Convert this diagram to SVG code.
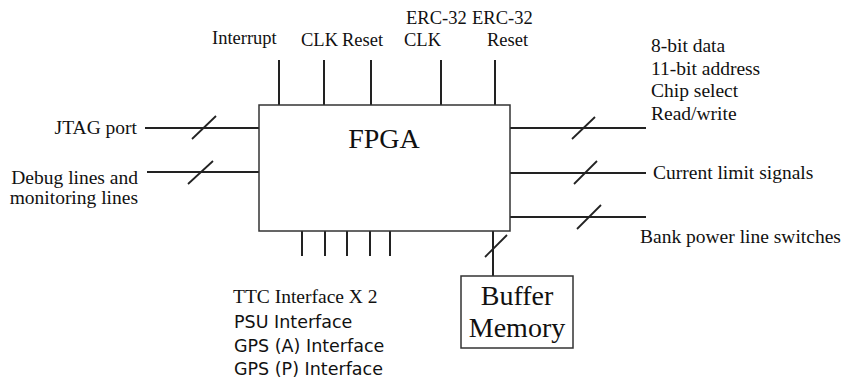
<svg xmlns="http://www.w3.org/2000/svg" width="846" height="380" viewBox="0 0 846 380">
<style>
.t{font-family:"Liberation Serif","Times New Roman",serif;font-size:19.5px;fill:#111}
.tt{font-family:"Liberation Serif","Times New Roman",serif;font-size:18.5px;fill:#111}
.s{font-family:"DejaVu Sans",Verdana,sans-serif;font-size:17.5px;fill:#111}
.big{font-family:"Liberation Serif","Times New Roman",serif;font-size:28px;fill:#111}
.box{fill:#fff;stroke:#333;stroke-width:1.5}
.w{stroke:#222;stroke-width:2;fill:none}
.sl{stroke:#222;stroke-width:1.8;fill:none}
</style>
<rect width="846" height="380" fill="#fff"/>
<g id="connectors">
<line class="w" x1="279" y1="60" x2="279" y2="105"/>
<line class="w" x1="324" y1="60" x2="324" y2="105"/>
<line class="w" x1="371" y1="60" x2="371" y2="105"/>
<line class="w" x1="441" y1="60" x2="441" y2="105"/>
<line class="w" x1="495" y1="60" x2="495" y2="105"/>
<line class="w" x1="145" y1="128" x2="259" y2="128"/>
<line class="sl" x1="192" y1="139" x2="216" y2="116"/>
<line class="w" x1="147" y1="172" x2="259" y2="172"/>
<line class="sl" x1="188" y1="184" x2="213" y2="161"/>
<line class="w" x1="510" y1="128" x2="646" y2="128"/>
<line class="sl" x1="572" y1="139" x2="595" y2="117"/>
<line class="w" x1="510" y1="173" x2="646" y2="173"/>
<line class="sl" x1="574" y1="184" x2="597" y2="161"/>
<line class="w" x1="510" y1="217" x2="646" y2="217"/>
<line class="sl" x1="577" y1="229" x2="601" y2="205"/>
<line class="w" x1="302" y1="231" x2="302" y2="256"/>
<line class="w" x1="325" y1="231" x2="325" y2="256"/>
<line class="w" x1="347" y1="231" x2="347" y2="256"/>
<line class="w" x1="370" y1="231" x2="370" y2="256"/>
<line class="w" x1="390" y1="231" x2="390" y2="256"/>
<line class="w" x1="493" y1="231" x2="493" y2="276"/>
<line class="sl" x1="485" y1="257" x2="507" y2="235"/>
</g>
<g id="fpga">
<rect class="box" x="259" y="105" width="251" height="126"/>
<text class="big" x="384" y="148" text-anchor="middle">FPGA</text>
</g>
<g id="buffer">
<rect class="box" x="461" y="276" width="112" height="72"/>
<text class="big" x="517" y="305" text-anchor="middle">Buffer</text>
<text class="big" x="517" y="337" text-anchor="middle">Memory</text>
</g>
<g id="top-labels">
<text class="tt" x="212" y="44">Interrupt</text>
<text class="tt" x="301" y="46">CLK</text>
<text class="tt" x="342" y="46">Reset</text>
<text class="tt" x="406" y="24">ERC-32</text>
<text class="tt" x="404" y="46">CLK</text>
<text class="tt" x="472" y="24">ERC-32</text>
<text class="tt" x="487" y="46">Reset</text>
</g>
<g id="left-labels">
<text class="t" x="137" y="134" text-anchor="end">JTAG port</text>
<text class="t" x="138" y="184" text-anchor="end">Debug lines and</text>
<text class="t" x="138" y="204" text-anchor="end">monitoring lines</text>
</g>
<g id="right-labels">
<text class="t" x="651" y="52">8-bit data</text>
<text class="t" x="651" y="75">11-bit address</text>
<text class="t" x="651" y="97">Chip select</text>
<text class="t" x="651" y="120">Read/write</text>
<text class="t" x="653" y="179">Current limit signals</text>
<text class="t" x="640" y="243">Bank power line switches</text>
</g>
<g id="bottom-labels">
<text class="t" x="233" y="303">TTC Interface X 2</text>
<text class="s" x="234" y="328">PSU Interface</text>
<text class="s" x="234" y="352">GPS (A) Interface</text>
<text class="s" x="234" y="375">GPS (P) Interface</text>
</g>
</svg>
